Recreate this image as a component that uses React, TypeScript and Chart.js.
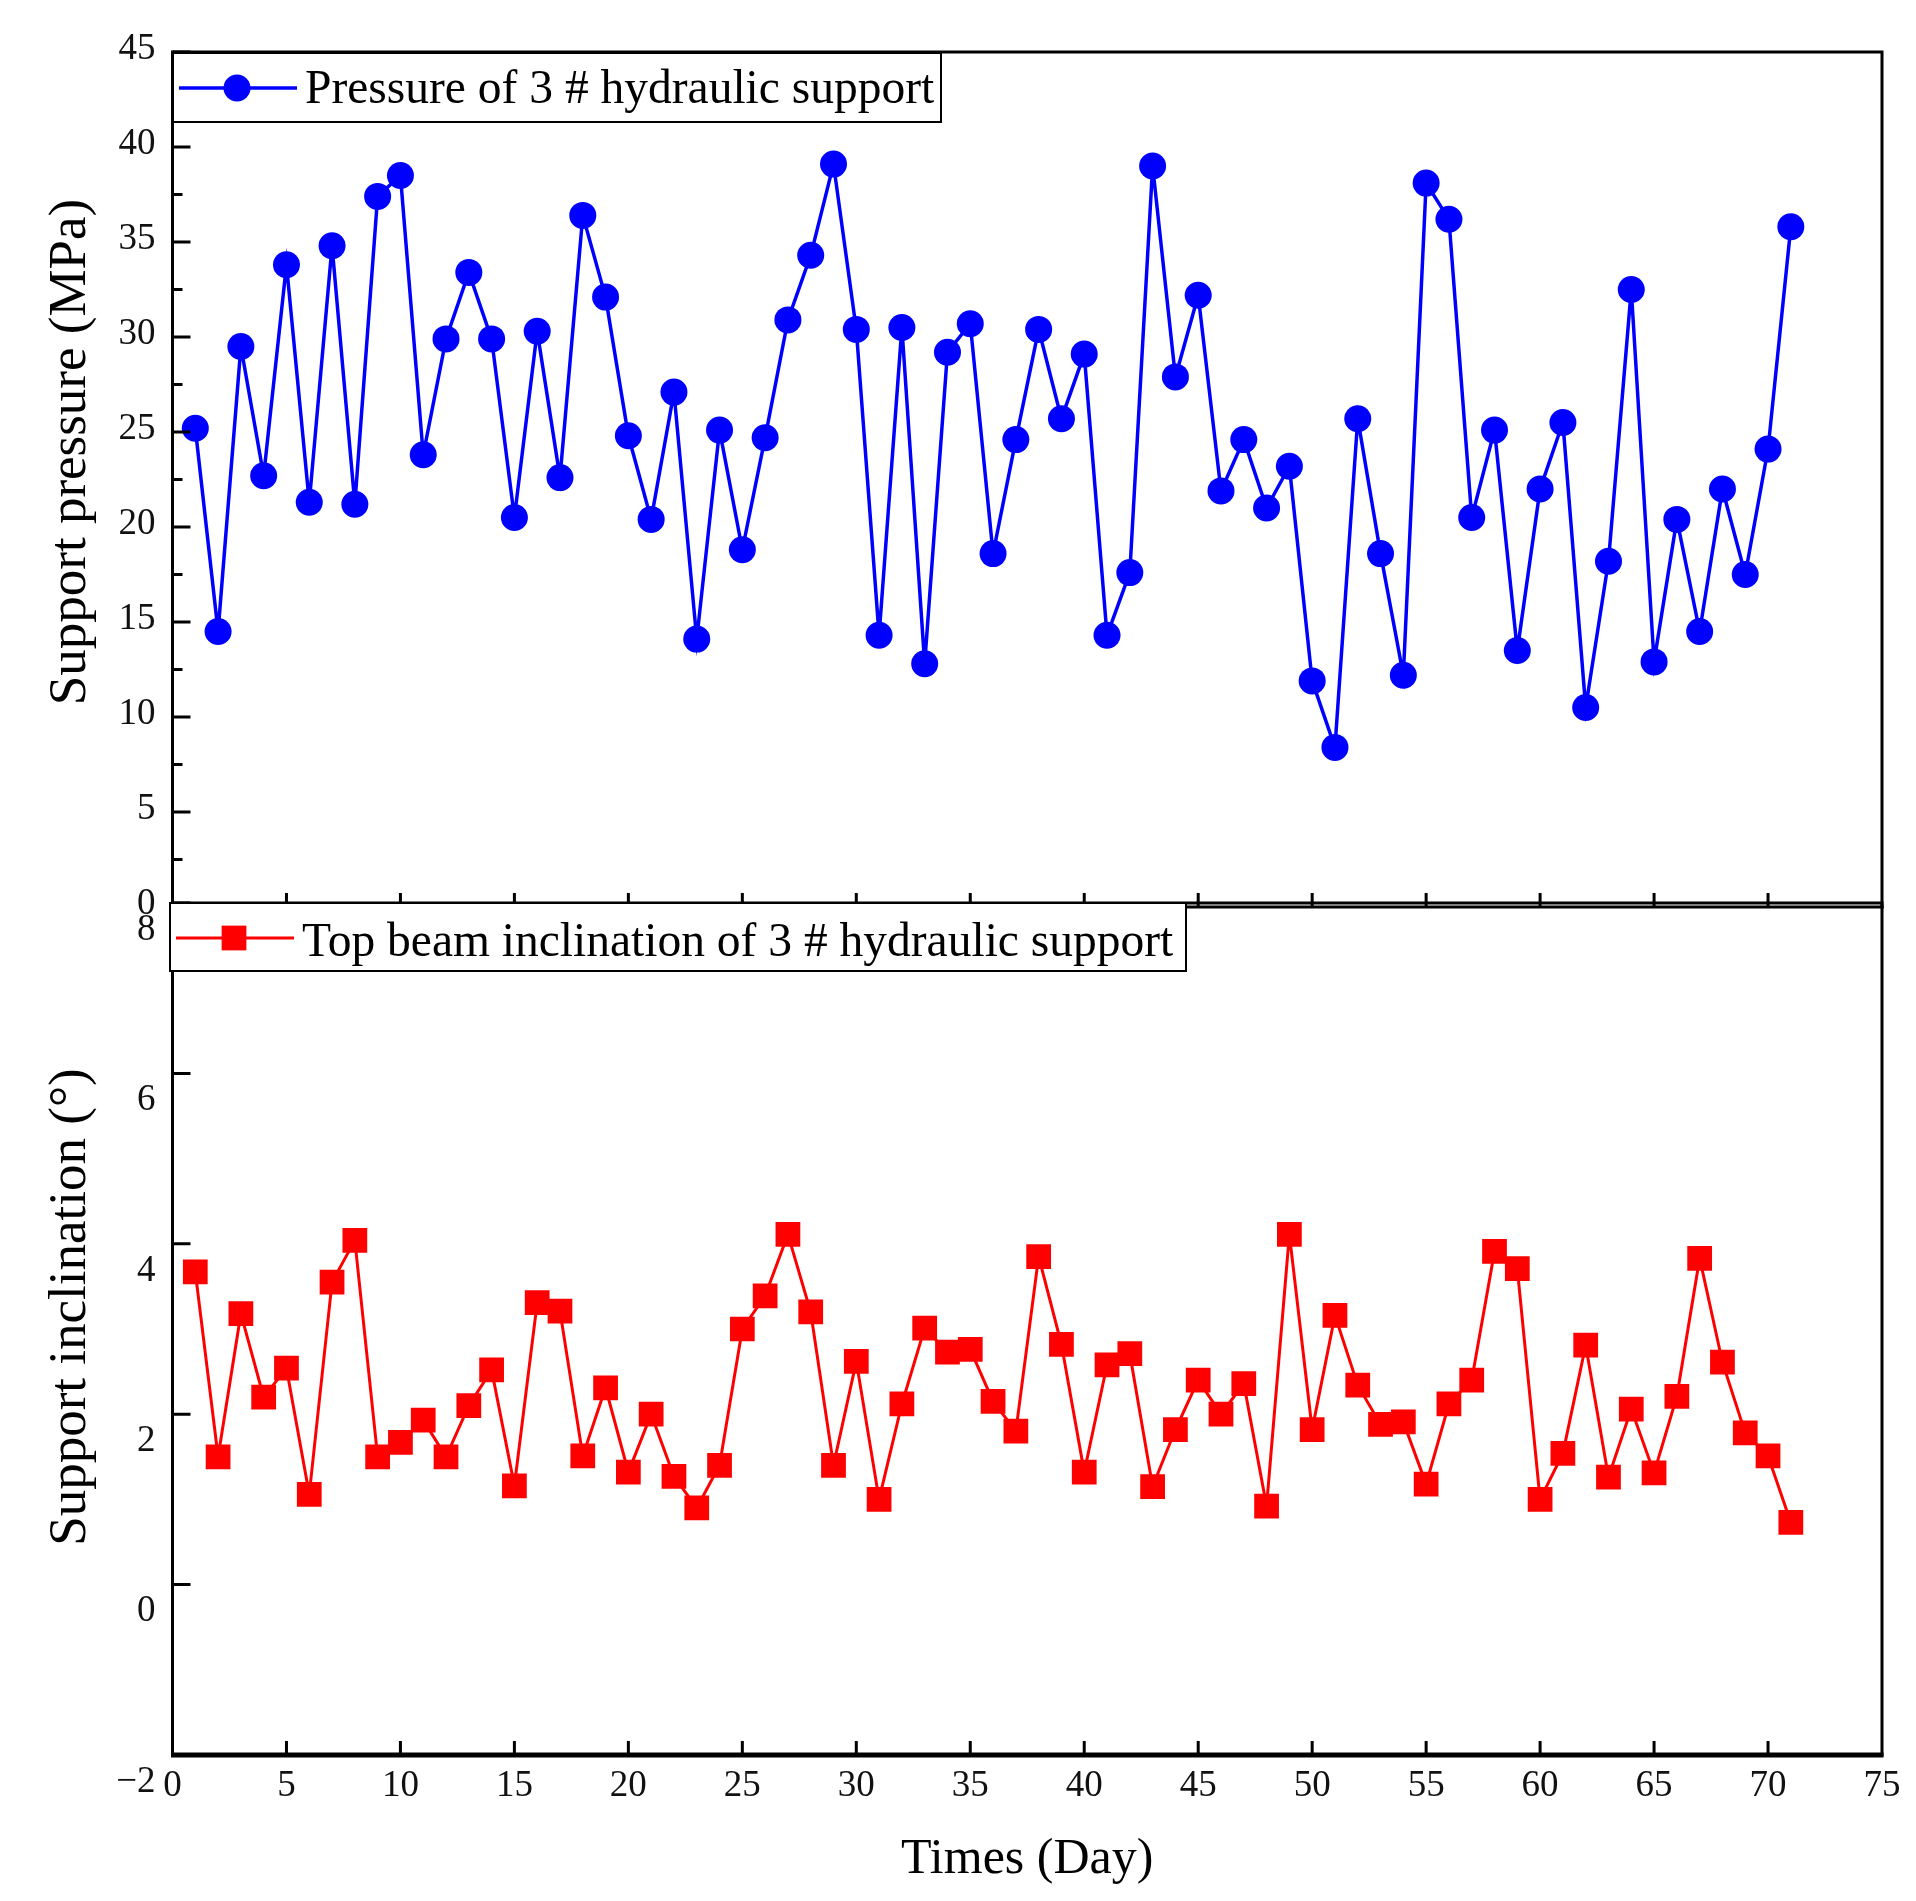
import React, { useEffect, useRef } from 'react';
import { Chart, registerables } from 'chart.js';

Chart.register(...registerables);

const FONT = "'Liberation Serif', 'Times New Roman', serif";

// day index of every reading
const days = [
  1, 2, 3, 4, 5, 6, 7, 8, 9, 10, 11, 12, 13, 14, 15, 16, 17, 18, 19, 20,
  21, 22, 23, 24, 25, 26, 27, 28, 29, 30, 31, 32, 33, 34, 35, 36, 37, 38, 39, 40,
  41, 42, 43, 44, 45, 46, 47, 48, 49, 50, 51, 52, 53, 54, 55, 56, 57, 58, 59, 60,
  61, 62, 63, 64, 65, 66, 67, 68, 69, 70, 71,
];

// support pressure (MPa)
const pressure = [
  25.2, 14.5, 29.5, 22.7, 33.8, 21.3, 34.8, 21.2, 37.4, 38.5,
  23.8, 29.9, 33.4, 29.9, 20.5, 30.3, 22.6, 36.4, 32.1, 24.8,
  20.4, 27.1, 14.1, 25.1, 18.8, 24.7, 30.9, 34.3, 39.1, 30.4,
  14.3, 30.5, 12.8, 29.2, 30.7, 18.6, 24.6, 30.4, 25.7, 29.1,
  14.3, 17.6, 39.0, 27.9, 32.2, 21.9, 24.6, 21.0, 23.2, 11.9,
  8.4, 25.7, 18.6, 12.2, 38.1, 36.2, 20.5, 25.1, 13.5, 22.0,
  25.5, 10.5, 18.2, 32.5, 12.9, 20.4, 14.5, 22.0, 17.5, 24.1,
  35.8,
];

// top beam inclination (deg)
const inclination = [
  3.67, 1.5, 3.18, 2.2, 2.54, 1.06, 3.55, 4.04, 1.5, 1.67,
  1.93, 1.5, 2.1, 2.52, 1.16, 3.31, 3.21, 1.51, 2.31, 1.32,
  2.0, 1.27, 0.9, 1.4, 3.0, 3.39, 4.11, 3.2, 1.4, 2.62,
  1.0, 2.12, 3.01, 2.73, 2.76, 2.15, 1.8, 3.85, 2.82, 1.32,
  2.58, 2.71, 1.15, 1.82, 2.4, 2.0, 2.36, 0.92, 4.11, 1.82,
  3.16, 2.34, 1.88, 1.91, 1.18, 2.12, 2.4, 3.91, 3.71, 1.0,
  1.54, 2.81, 1.26, 2.06, 1.31, 2.21, 3.83, 2.61, 1.78, 1.51,
  0.73,
];

const xTicks = [0, 5, 10, 15, 20, 25, 30, 35, 40, 45, 50, 55, 60, 65, 70, 75];
const pressureTicks = [0, 5, 10, 15, 20, 25, 30, 35, 40, 45];
const inclinationTicks = [-2, 0, 2, 4, 6, 8];

const W = 1916;
const H = 1901;

type PanelOpts = {
  yTitle: string;
  yTitleY: number;
  legendBox: [number, number, number, number];
  legendY: number;
  legendTextY: number;
  minorY: boolean;
  bottomWidth: number;
  xTitle?: string;
};

function panelPlugin(o: PanelOpts) {
  return {
    id: 'panelFrame',
    afterDraw(chart: any) {
      const { ctx, chartArea: a, scales } = chart;
      const xs = scales.x;
      const ys = scales.y;
      ctx.save();
      ctx.strokeStyle = '#000';
      ctx.lineCap = 'butt';

      // inward tick marks
      ctx.lineWidth = 3;
      ctx.beginPath();
      const yt = ys.ticks.map((t: any) => t.value);
      yt.forEach((v: number, i: number) => {
        const py = ys.getPixelForValue(v);
        ctx.moveTo(a.left, py);
        ctx.lineTo(a.left + 18, py);
        if (o.minorY && i < yt.length - 1) {
          const pm = ys.getPixelForValue((v + yt[i + 1]) / 2);
          ctx.moveTo(a.left, pm);
          ctx.lineTo(a.left + 10, pm);
        }
      });
      xTicks.forEach((v) => {
        if (v === xTicks[0] || v === xTicks[xTicks.length - 1]) return;
        const px = xs.getPixelForValue(v);
        ctx.moveTo(px, a.bottom);
        ctx.lineTo(px, a.bottom - 14);
      });
      ctx.stroke();

      // frame
      ctx.lineWidth = 3;
      ctx.beginPath();
      ctx.moveTo(a.left, a.top);
      ctx.lineTo(a.right, a.top);
      ctx.moveTo(a.left, a.top - 1.5);
      ctx.lineTo(a.left, a.bottom + 1.5);
      ctx.moveTo(a.right, a.top - 1.5);
      ctx.lineTo(a.right, a.bottom + 1.5);
      ctx.stroke();
      ctx.lineWidth = o.bottomWidth;
      ctx.beginPath();
      ctx.moveTo(a.left - 1.5, a.bottom);
      ctx.lineTo(a.right + 1.5, a.bottom);
      ctx.stroke();

      // legend
      const ds = chart.data.datasets[0];
      const [lx1, ly1, lx2, ly2] = o.legendBox;
      ctx.fillStyle = '#fff';
      ctx.fillRect(lx1, ly1, lx2 - lx1, ly2 - ly1);
      ctx.lineWidth = 2;
      ctx.strokeStyle = '#000';
      ctx.strokeRect(lx1, ly1, lx2 - lx1, ly2 - ly1);
      ctx.strokeStyle = ds.borderColor;
      ctx.lineWidth = ds.borderWidth;
      ctx.beginPath();
      ctx.moveTo(lx1 + 6, o.legendY);
      ctx.lineTo(lx1 + 124, o.legendY);
      ctx.stroke();
      ctx.fillStyle = ds.pointBackgroundColor;
      const mx = lx1 + 64;
      if (ds.pointStyle === 'rect') {
        const s = ds.pointRadius * Math.SQRT1_2;
        ctx.fillRect(mx - s, o.legendY - s, 2 * s, 2 * s);
      } else {
        ctx.beginPath();
        ctx.arc(mx, o.legendY, ds.pointRadius, 0, Math.PI * 2);
        ctx.fill();
      }
      ctx.fillStyle = '#000';
      ctx.font = `47.5px ${FONT}`;
      ctx.textAlign = 'left';
      ctx.textBaseline = 'alphabetic';
      ctx.fillText(ds.label, lx1 + 132, o.legendTextY);

      // axis titles
      ctx.font = `53px ${FONT}`;
      ctx.textAlign = 'center';
      ctx.save();
      ctx.translate(84.5, o.yTitleY);
      ctx.rotate(-Math.PI / 2);
      ctx.fillText(o.yTitle, 0, 0);
      ctx.restore();
      if (o.xTitle) {
        ctx.font = `50px ${FONT}`;
        ctx.fillText(o.xTitle, (a.left + a.right) / 2, 1873);
      }
      ctx.restore();
    },
  };
}

const tickFont = { family: FONT, size: 37 };

function yScale(values: number[], offset: number) {
  return {
    type: 'linear' as const,
    min: values[0],
    max: values[values.length - 1],
    afterFit: (s: any) => {
      s.width = 172.5;
    },
    afterBuildTicks: (s: any) => {
      s.ticks = values.map((v) => ({ value: v }));
    },
    grid: { display: false, drawTicks: false },
    border: { display: false },
    ticks: {
      font: tickFont,
      color: '#111',
      padding: 17,
      labelOffset: offset,
      callback: (v: any) => String(v).replace('-', '\u2212'),
    },
  };
}

export default function App() {
  const topRef = useRef<HTMLCanvasElement>(null);
  const bottomRef = useRef<HTMLCanvasElement>(null);

  useEffect(() => {
    if (!topRef.current || !bottomRef.current) return;

    const top = new Chart(topRef.current, {
      type: 'line',
      data: {
        datasets: [
          {
            label: 'Pressure of 3 # hydraulic support',
            data: days.map((d, i) => ({ x: d, y: pressure[i] })),
            borderColor: '#0000ff',
            backgroundColor: '#0000ff',
            pointBackgroundColor: '#0000ff',
            borderWidth: 3.5,
            pointStyle: 'circle',
            pointRadius: 13.5,
            pointBorderWidth: 0,
            tension: 0,
          },
        ],
      },
      options: {
        responsive: false,
        animation: false,
        devicePixelRatio: 1,
        events: [],
        layout: { padding: { left: 0, top: 52, right: W - 1882, bottom: H - 907 } },
        plugins: { legend: { display: false }, tooltip: { enabled: false } },
        scales: {
          x: { type: 'linear', display: false, min: xTicks[0], max: xTicks[xTicks.length - 1] },
          y: yScale(pressureTicks, -3),
        },
      } as any,
      plugins: [
        panelPlugin({
          yTitle: 'Support pressure (MPa)',
          yTitleY: 452,
          legendBox: [173, 53, 941, 122],
          legendY: 88,
          legendTextY: 103,
          minorY: true,
          bottomWidth: 3,
        }),
      ],
    });

    const bottom = new Chart(bottomRef.current, {
      type: 'line',
      data: {
        datasets: [
          {
            label: 'Top beam inclination of 3 # hydraulic support',
            data: days.map((d, i) => ({ x: d, y: inclination[i] })),
            borderColor: '#ff0000',
            backgroundColor: '#ff0000',
            pointBackgroundColor: '#ff0000',
            borderWidth: 3,
            pointStyle: 'rect',
            pointRadius: 17.5,
            pointBorderWidth: 0,
            tension: 0,
          },
        ],
      },
      options: {
        responsive: false,
        animation: false,
        devicePixelRatio: 1,
        events: [],
        layout: { padding: { left: 0, top: 903, right: W - 1882, bottom: 0 } },
        plugins: { legend: { display: false }, tooltip: { enabled: false } },
        scales: {
          x: {
            type: 'linear',
            position: 'bottom',
            min: xTicks[0],
            max: xTicks[xTicks.length - 1],
            afterFit: (s: any) => {
              s.height = H - 1755;
            },
            afterBuildTicks: (s: any) => {
              s.ticks = xTicks.map((v) => ({ value: v }));
            },
            grid: { display: false, drawTicks: false },
            border: { display: false },
            ticks: { font: tickFont, color: '#111', padding: 9, maxRotation: 0, autoSkip: false },
          },
          y: yScale(inclinationTicks, 27),
        },
      } as any,
      plugins: [
        panelPlugin({
          yTitle: 'Support inclination (\u00b0)',
          yTitleY: 1307,
          legendBox: [170, 903, 1186, 971],
          legendY: 938,
          legendTextY: 956,
          minorY: false,
          bottomWidth: 5,
          xTitle: 'Times (Day)',
        }),
      ],
    });

    return () => {
      top.destroy();
      bottom.destroy();
    };
  }, []);

  const canvasStyle: React.CSSProperties = {
    position: 'absolute',
    left: 0,
    top: 0,
    width: W,
    height: H,
  };

  return (
    <div
      style={{
        position: 'absolute',
        left: 0,
        top: 0,
        width: W,
        height: H,
        background: '#fff',
        overflow: 'hidden',
      }}
    >
      <canvas ref={topRef} width={W} height={H} style={canvasStyle} />
      <canvas ref={bottomRef} width={W} height={H} style={canvasStyle} />
    </div>
  );
}
